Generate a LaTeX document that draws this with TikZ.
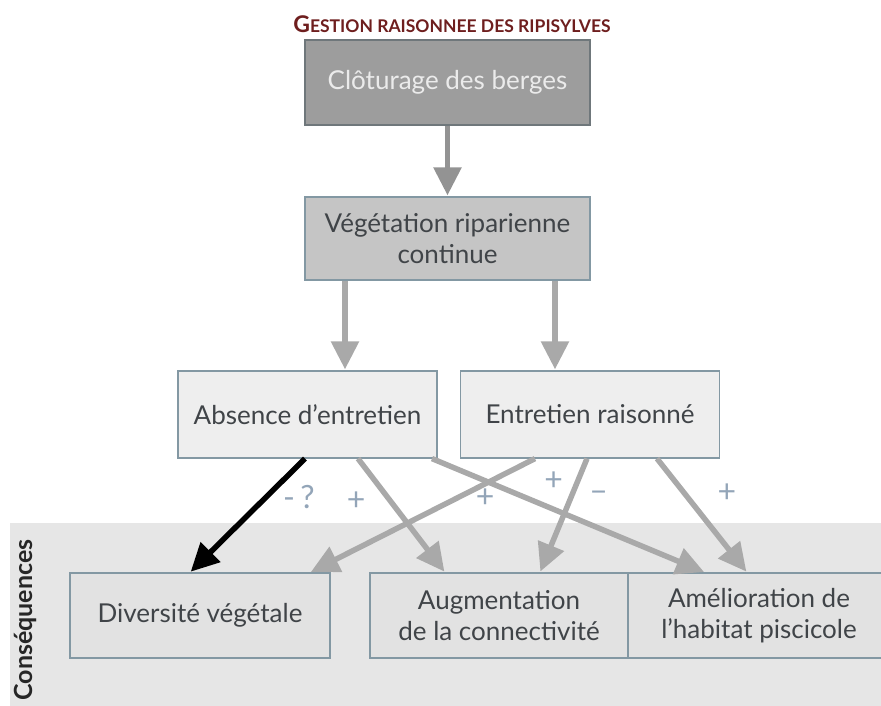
\documentclass[tikz,border=0pt]{standalone}
\usepackage{fontspec}
\setmainfont{Lato}
\usetikzlibrary{positioning,arrows.meta,calc}
\definecolor{titlered}{HTML}{6E1E1E}
\definecolor{topfill}{HTML}{9D9D9D}
\definecolor{topedge}{HTML}{6F777B}
\definecolor{toptext}{HTML}{EBEBEB}
\definecolor{midfill}{HTML}{C5C5C5}
\definecolor{boxedge}{HTML}{8398A3}
\definecolor{lightfill}{HTML}{EEEEEE}
\definecolor{lowfill}{HTML}{E2E2E2}
\definecolor{bandgray}{HTML}{E6E6E6}
\definecolor{boxtext}{HTML}{404448}
\definecolor{arrowgray}{HTML}{A9A9A9}
\definecolor{signblue}{HTML}{93A5B8}
\tikzset{
node distance=4cm, % default, overridden below
box/.style={draw=boxedge, line width=1.2pt, align=center, text=boxtext,
  font=\fontsize{26}{31}\selectfont, inner sep=4pt},
topbox/.style={box, fill=topfill, draw=topedge, text=toptext,
  minimum width=285pt, minimum height=85pt},
midbox/.style={box, fill=midfill, minimum width=285pt, minimum height=83pt},
choicebox/.style={box, fill=lightfill, minimum width=259pt, minimum height=87pt},
effectbox/.style={box, fill=lowfill, minimum width=259pt, minimum height=85pt},
flow/.style={line width=5.5pt, draw=arrowgray, -{Triangle[width=27pt,length=28pt]}},
sign/.style={text=signblue, font=\fontsize{32}{32}\selectfont},
}

\begin{document}
\begin{tikzpicture}[x=1pt,y=-1pt,shorten >=1pt,on grid]
   \useasboundingbox (0,0) rectangle (881,706);
   % band of consequences
   \fill[bandgray] (10,523) rectangle (881,706);
   \node[rotate=90, text=black!85, font=\bfseries\fontsize{25}{25}\selectfont] (consequences) at (25,620) {Conséquences};
   \node (titre) at (452,24) {\textcolor{titlered}{\bfseries\fontsize{23}{23}\selectfont G\fontsize{17.5}{17.5}\selectfont ESTION RAISONNEE DES RIPISYLVES}};

   \node[topbox] (cloture) at (447.5,82.5) {Clôturage des berges};
   \node[midbox] (vegetation) [below=156pt of cloture] {Végétation riparienne\\continue};
   \node[choicebox] (absence) [below left=176pt and 140pt of vegetation] {Absence d'entretien};
   \node[choicebox] (entretien) [below right=176pt and 142.5pt of vegetation] {Entretien raisonné};
   \node[effectbox, minimum width=260pt] (diversite) [below left=201pt and 107.5pt of absence] {Diversité végétale};
   \node[effectbox, minimum width=258pt] (connectivite) [below right=201pt and 191.5pt of absence] {Augmentation\\de la connectivité};
   \node[effectbox, minimum width=262pt] (habitat) [right=260pt of connectivite] {Amélioration de\\l'habitat piscicole};

    \path[every edge/.style=flow] 
    (cloture) edge[draw=gray!85] (vegetation)
    ([xshift=-102.5pt]vegetation.south) edge ([xshift=37.5pt]absence.north)
    ([xshift=107.5pt]vegetation.south) edge ([xshift=-35pt]entretien.north)
    ([xshift=50.5pt]absence.south) edge node[sign, pos=0.37, xshift=-34pt] {+} ([xshift=-54pt]connectivite.north)
    ([xshift=124.5pt]absence.south) edge node[sign, pos=0.61, yshift=32pt] {--} ([xshift=-54pt]habitat.north)
    ([xshift=-55pt]entretien.south) edge node[sign, pos=0.35, xshift=29pt] {+} ([xshift=110pt]diversite.north)
    ([xshift=-3pt]entretien.south) edge node[sign, pos=0.2, xshift=-24pt] {+} ([xshift=41pt]connectivite.north)
    ([xshift=67pt]entretien.south) edge node[sign, pos=0.3, xshift=43pt] {+} ([xshift=-12pt]habitat.north)
    ([xshift=-2.5pt]absence.south) edge[draw=black] node[sign, pos=0.34, xshift=33pt] {-\,?} ([xshift=-10pt]diversite.north);
\end{tikzpicture}
\end{document}
